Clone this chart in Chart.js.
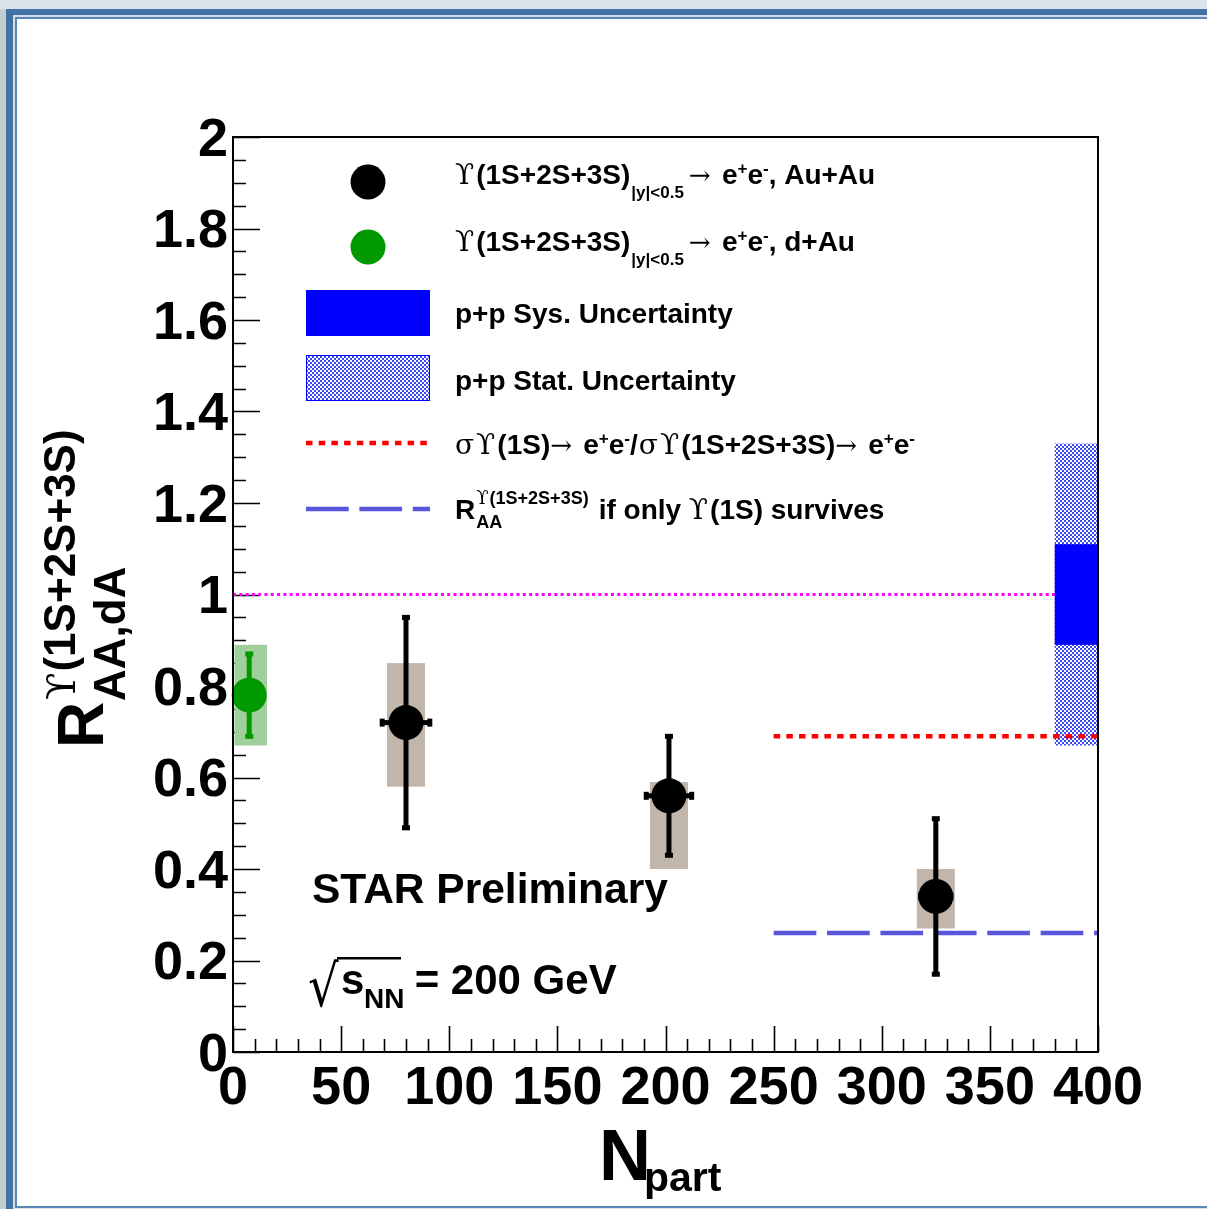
<!DOCTYPE html>
<html>
<head>
<meta charset="utf-8">
<title>Upsilon RAA vs Npart</title>
<script src="https://cdn.jsdelivr.net/npm/chart.js@4.4.1/dist/chart.umd.min.js"></script>
<style>
  html, body { margin: 0; padding: 0; background: #d9e3eb; overflow: hidden; }
  #wrap { position: absolute; left: 0; top: 0; width: 1207px; height: 1209px; }
</style>
</head>
<body>
<div id="wrap"><canvas id="raa" width="1207" height="1209"></canvas></div>
<script>
// Au+Au, Upsilon(1S+2S+3S) -> e+e-, |y|<0.5
const auNpart = [80, 201.6, 325];
const auNpartErr = [11, 10.5, 7];
const auRaa = [0.72, 0.56, 0.34];
const auStatLow = [0.49, 0.43, 0.17];
const auStatHigh = [0.95, 0.69, 0.51];
const auSysLow = [0.58, 0.40, 0.27];
const auSysHigh = [0.85, 0.59, 0.40];

// d+Au
const dauNpart = [7.5];
const dauRaa = [0.78];
const dauStatLow = [0.69];
const dauStatHigh = [0.87];
const dauSysLow = [0.67];
const dauSysHigh = [0.89];

// reference lines
const unityNpart = [0, 400];
const unityRaa = [1, 1];
const ratioNpart = [250, 400];
const ratio1S = [0.69, 0.69];
const only1S = [0.26, 0.26];

// p+p normalisation uncertainty at R = 1
const ppNpart = [380, 400];
const ppSysErr = 0.11;
const ppStatErr = 0.33;

// axis ticks
const xTickValues = [0, 50, 100, 150, 200, 250, 300, 350, 400];
const yTickValues = [0, 0.2, 0.4, 0.6, 0.8, 1, 1.2, 1.4, 1.6, 1.8, 2];

const SANS = '"Liberation Sans", Arial, Helvetica, sans-serif';
const SERIF = '"DejaVu Serif", serif';
const B = n => 'bold ' + n + 'px ' + SANS;
const S = n => n + 'px ' + SERIF;

const hatch = (function () {
    const c = document.createElement('canvas');
    c.width = 4; c.height = 4;
    const g = c.getContext('2d');
    g.fillStyle = '#ffffff';
    g.fillRect(0, 0, 4, 4);
    g.fillStyle = '#3a48f2';
    g.fillRect(0, 0, 2, 2);
    g.fillRect(2, 2, 2, 2);
    return c;
})();

function toPoints(xs, ys) {
    return xs.map((x, i) => ({ x: x, y: ys[i] }));
}

function runs(ctx, x, y, parts) {
    parts.forEach(p => {
        ctx.font = p.f;
        ctx.fillText(p.t, x, y + (p.dy || 0));
        x += ctx.measureText(p.t).width + (p.gap || 0);
    });
    return x;
}

function eplus(big, small, up) {
    return [
        { t: 'e', f: B(big) },
        { t: '+', f: B(small), dy: -up },
        { t: 'e', f: B(big) },
        { t: '-', f: B(small), dy: -up }
    ];
}

function vErr(ctx, x, yTop, yBot, color) {
    ctx.fillStyle = color;
    ctx.fillRect(x - 2.5, yTop, 5, yBot - yTop);
    ctx.fillRect(x - 4, yTop - 2.5, 8, 5);
    ctx.fillRect(x - 4, yBot - 2.5, 8, 5);
}

function hErr(ctx, xl, xr, y, color) {
    ctx.fillStyle = color;
    ctx.fillRect(xl, y - 2.5, xr - xl, 5);
    ctx.fillRect(xl - 2.5, y - 4, 5, 8);
    ctx.fillRect(xr - 2.5, y - 4, 5, 8);
}

function drawBoxes(chart) {
    const ctx = chart.ctx, xs = chart.scales.x, ys = chart.scales.y;
    const X = v => xs.getPixelForValue(v), Y = v => ys.getPixelForValue(v);
    ctx.save();
    ctx.fillStyle = ctx.createPattern(hatch, 'repeat');
    ctx.fillRect(X(ppNpart[0]), Y(1 + ppStatErr), X(ppNpart[1]) - X(ppNpart[0]), Y(1 - ppStatErr) - Y(1 + ppStatErr));
    ctx.fillStyle = '#0000ff';
    ctx.fillRect(X(ppNpart[0]), Y(1 + ppSysErr), X(ppNpart[1]) - X(ppNpart[0]), Y(1 - ppSysErr) - Y(1 + ppSysErr));

    ctx.fillStyle = '#c1b6ac';
    auNpart.forEach((n, i) => {
        ctx.fillRect(X(n - 8.8), Y(auSysHigh[i]), X(n + 8.8) - X(n - 8.8), Y(auSysLow[i]) - Y(auSysHigh[i]));
    });
    ctx.fillStyle = '#9fcf9b';
    dauNpart.forEach((n, i) => {
        ctx.fillRect(X(n - 6.8), Y(dauSysHigh[i]), X(n + 8.2) - X(n - 6.8), Y(dauSysLow[i]) - Y(dauSysHigh[i]));
    });
    ctx.restore();
}

function drawErrors(chart) {
    const ctx = chart.ctx, xs = chart.scales.x, ys = chart.scales.y;
    const X = v => xs.getPixelForValue(v), Y = v => ys.getPixelForValue(v);
    ctx.save();
    auNpart.forEach((n, i) => {
        vErr(ctx, X(n), Y(auStatHigh[i]), Y(auStatLow[i]), '#000000');
        hErr(ctx, X(n - auNpartErr[i]), X(n + auNpartErr[i]), Y(auRaa[i]), '#000000');
    });
    dauNpart.forEach((n, i) => {
        vErr(ctx, X(n), Y(dauStatHigh[i]), Y(dauStatLow[i]), '#009900');
    });
    ctx.restore();
}

function drawTicks(chart) {
    const ctx = chart.ctx, a = chart.chartArea, xs = chart.scales.x, ys = chart.scales.y;
    ctx.save();
    ctx.strokeStyle = '#000000';
    ctx.lineWidth = 1.6;
    ctx.beginPath();
    for (let k = 0; k <= 40; k++) {
        const y = Math.round(ys.getPixelForValue(k * 0.05)) + 0.5;
        const len = k % 4 === 0 ? 27 : 13;
        ctx.moveTo(a.left, y);
        ctx.lineTo(a.left + len, y);
    }
    for (let k = 0; k <= 40; k++) {
        const x = Math.round(xs.getPixelForValue(k * 10)) + 0.5;
        const len = k % 5 === 0 ? 26 : 13;
        ctx.moveTo(x, a.bottom);
        ctx.lineTo(x, a.bottom - len);
    }
    ctx.stroke();
    ctx.restore();
}

function drawFrame(chart) {
    const ctx = chart.ctx, a = chart.chartArea;
    ctx.save();
    ctx.strokeStyle = '#000000';
    ctx.lineWidth = 2;
    ctx.strokeRect(a.left, a.top, a.right - a.left, a.bottom - a.top);
    ctx.restore();
}

function drawLegend(ctx) {
    ctx.save();
    ctx.fillStyle = '#000000';
    ctx.textBaseline = 'alphabetic';
    ctx.textAlign = 'left';

    // markers
    ctx.beginPath(); ctx.arc(368, 182, 17.5, 0, Math.PI * 2); ctx.fill();
    ctx.fillStyle = '#009900';
    ctx.beginPath(); ctx.arc(368, 247, 17.5, 0, Math.PI * 2); ctx.fill();
    ctx.fillStyle = '#0000ff';
    ctx.fillRect(306, 290, 124, 46);
    ctx.fillStyle = ctx.createPattern(hatch, 'repeat');
    ctx.fillRect(306, 355, 124, 46);
    ctx.strokeStyle = '#0000ff';
    ctx.lineWidth = 1;
    ctx.strokeRect(306.5, 355.5, 123, 45);
    ctx.lineWidth = 4.5;
    ctx.strokeStyle = '#ff0000';
    ctx.setLineDash([6.5, 6.2]);
    ctx.beginPath(); ctx.moveTo(306, 443); ctx.lineTo(430, 443); ctx.stroke();
    ctx.strokeStyle = '#5b55dc';
    ctx.setLineDash([42.7, 10.7]);
    ctx.beginPath(); ctx.moveTo(306, 509); ctx.lineTo(430, 509); ctx.stroke();
    ctx.setLineDash([]);

    ctx.fillStyle = '#000000';
    const row1 = [
        { t: '\u03D2', f: S(28), gap: 2 },
        { t: '(1S+2S+3S)', f: B(28), gap: 1 },
        { t: '|y|<0.5', f: B(17), dy: 14, gap: 5 },
        { t: '\u2192 ', f: S(26), gap: 3 }
    ];
    runs(ctx, 455, 184, row1.concat(eplus(28, 17, 10), [{ t: ', Au+Au', f: B(28) }]));
    runs(ctx, 455, 251, row1.concat(eplus(28, 17, 10), [{ t: ', d+Au', f: B(28) }]));
    runs(ctx, 455, 323, [{ t: 'p+p Sys. Uncertainty', f: B(28) }]);
    runs(ctx, 455, 390, [{ t: 'p+p Stat. Uncertainty', f: B(28) }]);
    runs(ctx, 455, 454, [
        { t: '\u03C3', f: S(28), gap: 2 },
        { t: '\u03D2', f: S(28), gap: 2 },
        { t: '(1S)', f: B(28) },
        { t: '\u2192 ', f: S(26), gap: 3 }
    ].concat(eplus(28, 17, 10), [
        { t: '/', f: B(28), gap: 1 },
        { t: '\u03C3', f: S(28), gap: 2 },
        { t: '\u03D2', f: S(28), gap: 2 },
        { t: '(1S+2S+3S)', f: B(28) },
        { t: '\u2192 ', f: S(26), gap: 3 }
    ], eplus(28, 17, 10)));

    // R_AA^{Upsilon(1S+2S+3S)} if only Upsilon(1S) survives
    let x = runs(ctx, 455, 519, [{ t: 'R', f: B(28) }]) + 1;
    const xe = runs(ctx, x, 504, [{ t: '\u03D2', f: S(18), gap: 1 }, { t: '(1S+2S+3S)', f: B(18) }]);
    runs(ctx, x, 528, [{ t: 'AA', f: B(18) }]);
    runs(ctx, xe + 10, 519, [
        { t: 'if only ', f: B(28) },
        { t: '\u03D2', f: S(28), gap: 2 },
        { t: '(1S) survives', f: B(28) }
    ]);
    ctx.restore();
}

function drawTexts(ctx) {
    ctx.save();
    ctx.fillStyle = '#000000';
    ctx.textAlign = 'left';
    ctx.textBaseline = 'alphabetic';

    ctx.font = B(42.5);
    ctx.fillText('STAR Preliminary', 312, 903);

    // sqrt(s_NN) = 200 GeV
    ctx.save();
    ctx.translate(308, 1006);
    ctx.scale(1, 1.2);
    ctx.font = '48px "DejaVu Sans", sans-serif';
    ctx.fillText('\u221A', 0, 0);
    ctx.restore();
    ctx.fillRect(337, 957, 64, 2.5);
    runs(ctx, 341, 994, [{ t: 's', f: B(42) }]);
    runs(ctx, 364, 1008, [{ t: 'NN', f: B(28) }]);
    runs(ctx, 403, 994, [{ t: ' = 200 GeV', f: B(42) }]);

    // x title
    ctx.font = B(72);
    ctx.fillText('N', 599, 1180);
    ctx.font = B(41);
    ctx.fillText('part', 644, 1191);

    // y title, rotated
    ctx.translate(103, 748);
    ctx.rotate(-Math.PI / 2);
    ctx.font = B(64);
    ctx.fillText('R', 0, 0);
    runs(ctx, 47, 22, [{ t: 'AA,dA', f: B(44) }]);
    runs(ctx, 48, -28, [{ t: '\u03D2', f: S(40), gap: 1 }, { t: '(1S+2S+3S)', f: B(44) }]);
    ctx.restore();
}

const decor = {
    id: 'decor',
    beforeDraw(chart) {
        const ctx = chart.ctx, w = chart.width, h = chart.height;
        ctx.save();
        ctx.fillStyle = '#d9e3eb';
        ctx.fillRect(0, 0, w, h);
        ctx.fillStyle = '#c3cfcf';
        ctx.fillRect(0, 9, 6, h - 9);
        ctx.fillStyle = '#4572a5';
        ctx.fillRect(6, 9, w - 6, 6);
        ctx.fillRect(6, 9, 7, h - 9);
        ctx.fillStyle = '#d2dde8';
        ctx.fillRect(13, 15, w - 13, 2);
        ctx.fillRect(13, 15, 2, h - 15);
        ctx.fillStyle = '#5a86b8';
        ctx.fillRect(15, 17, w - 15, 2);
        ctx.fillRect(15, 17, 2, 1191);
        ctx.fillRect(15, 1206, w - 15, 2);
        ctx.fillStyle = '#ffffff';
        ctx.fillRect(17, 19, w - 17, 1187);
        ctx.restore();
    },
    beforeDatasetsDraw(chart) {
        drawTicks(chart);
    },
    afterDatasetDraw(chart, args) {
        if (args.index === 4) drawBoxes(chart);
        if (args.index === 2) drawErrors(chart);
    },
    afterDraw(chart) {
        drawFrame(chart);
        drawLegend(chart.ctx);
        drawTexts(chart.ctx);
    }
};

new Chart(document.getElementById('raa').getContext('2d'), {
    type: 'scatter',
    data: {
        datasets: [
            {
                label: 'Au+Au',
                data: toPoints(auNpart, auRaa),
                pointRadius: 17.5,
                pointBackgroundColor: '#000000',
                pointBorderWidth: 0,
                order: 0,
                clip: false
            },
            {
                label: 'd+Au',
                data: toPoints(dauNpart, dauRaa),
                pointRadius: 17.5,
                pointBackgroundColor: '#009900',
                pointBorderWidth: 0,
                order: 1,
                clip: false
            },
            {
                label: '1S fraction',
                type: 'line',
                data: toPoints(ratioNpart, ratio1S),
                borderColor: '#ff0000',
                borderWidth: 4.5,
                borderDash: [6.5, 6.2],
                pointRadius: 0,
                order: 2
            },
            {
                label: 'only 1S survives',
                type: 'line',
                data: toPoints(ratioNpart, only1S),
                borderColor: '#5b55dc',
                borderWidth: 4.5,
                borderDash: [42.7, 10.7],
                pointRadius: 0,
                order: 3
            },
            {
                label: 'unity',
                type: 'line',
                data: toPoints(unityNpart, unityRaa),
                borderColor: '#ff00ff',
                borderWidth: 3,
                borderDash: [3, 3.3],
                pointRadius: 0,
                order: 4
            }
        ]
    },
    options: {
        responsive: false,
        animation: false,
        events: [],
        layout: { padding: { top: 137, right: 109, bottom: 0, left: 0 } },
        plugins: {
            legend: { display: false },
            tooltip: { enabled: false }
        },
        scales: {
            x: {
                type: 'linear',
                min: 0,
                max: 400,
                grid: { display: false, drawTicks: false },
                border: { display: false },
                afterBuildTicks: s => { s.ticks = xTickValues.map(v => ({ value: v })); },
                afterFit: s => { s.height = 157; },
                ticks: {
                    autoSkip: false,
                    maxRotation: 0,
                    padding: 5,
                    color: '#000000',
                    font: { family: SANS, size: 54, weight: 'bold' },
                    callback: v => String(v)
                }
            },
            y: {
                type: 'linear',
                min: 0,
                max: 2,
                grid: { display: false, drawTicks: false },
                border: { display: false },
                afterBuildTicks: s => { s.ticks = yTickValues.map(v => ({ value: v })); },
                afterFit: s => { s.width = 233; },
                ticks: {
                    autoSkip: false,
                    padding: 5,
                    labelOffset: 4,
                    color: '#000000',
                    font: { family: SANS, size: 54, weight: 'bold' },
                    callback: v => String(Math.round(v * 10) / 10)
                }
            }
        }
    },
    plugins: [decor]
});
</script>
</body>
</html>
